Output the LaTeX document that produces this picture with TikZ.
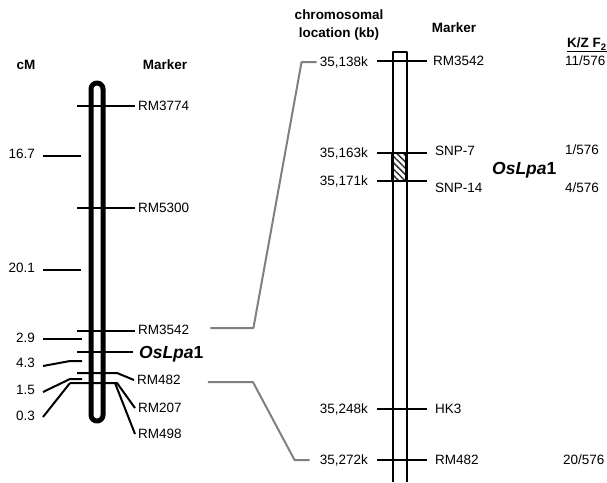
\documentclass[tikz,border=0pt]{standalone}
\usepackage{fontspec}
\setmainfont{Liberation Sans}
\usetikzlibrary{patterns.meta}

\begin{document}
\begin{tikzpicture}[
			x=1pt, y=-1pt,
			every node/.style={font=\fontsize{13.5}{16}\selectfont, inner xsep=3pt, inner ysep=0pt, text height=9.7pt, text depth=0pt},
			head/.style={font=\fontsize{13.5}{16}\selectfont\bfseries},
			gene/.style={font=\fontsize{17.5}{20}\selectfont\bfseries, text height=12.5pt},
			tick/.style={line width=2pt},
			link/.style={line width=2pt, draw=black!50},
			line join=round
			]
			\useasboundingbox (0,0) rectangle (607,482);
			
			% left map
			\node[head] (cm) at (26,65) {cM};
			\node[head] (lmark) at (165,65) {Marker};
			\draw[line width=5pt, rounded corners=6pt] (91,83) rectangle (103,421);
			\foreach \y in {106,208,331}
				\draw[tick] (77,\y) -- (135,\y);
			\draw[tick] (77,352) -- (133,352);
			
			\node[anchor=west] (l3774) at (135,106) {RM3774};
			\node[anchor=west] (l5300) at (135,208) {RM5300};
			\node[anchor=west] (l3542) at (135,330) {RM3542};
			\node[gene, anchor=west] (lgene) at (136,352) {\textit{OsLpa}1};
			\node[anchor=west] (l482) at (134,380) {RM482};
			\node[anchor=west] (l207) at (135,408) {RM207};
			\node[anchor=west] (l498) at (135,434) {RM498};
			\draw[tick] (77,373) -- (117,373) -- (l482.west);
			\draw[tick] (70,383) -- (117,383) -- (l207.west);
			\draw[tick] (115,383) -- (l498.west);
			
			\node[anchor=east] (c167) at (38,154) {16.7};
			\node[anchor=east] (c201) at (38,268) {20.1};
			\node[anchor=east] (c29) at (38,338) {2.9};
			\node[anchor=east] (c43) at (38,363) {4.3};
			\node[anchor=east] (c15) at (38,390) {1.5};
			\node[anchor=east] (c03) at (38,416) {0.3};
			\draw[tick] (c167.east) ++(5,2) -- (81,156);
			\draw[tick] (c201.east) ++(5,2) -- (81,270);
			\draw[tick] (c29.east) ++(5,1) -- (82,339);
			\draw[tick] (c43.east) ++(5,3) -- (70,361) -- (82,361);
			\draw[tick] (c15.east) ++(5,2) -- (70,379) -- (82,379);
			\draw[tick] (c03.east) ++(5,1) -- (70,383);
			
			% right map
			\node[head] (loc1) at (339,15) {chromosomal};
			\node[head] (loc2) at (339,33) {location (kb)};
			\node[head] (rmark) at (454,28) {Marker};
			\node[head, anchor=west] (kz) at (564,43) {\underline{K/Z F\textsubscript{2}}};
			\draw[line width=2pt] (392.5,482) -- (392.5,52) -- (406.5,52) -- (406.5,482);
			\fill[pattern={Lines[angle=-45, distance=4.5pt, line width=1.5pt]}, pattern color=black!80] (392.5,153) rectangle (406.5,181);
			\draw[line width=2.2pt] (392.5,153) rectangle (406.5,181);
			\foreach \y in {61,153,181,409,460}
				\draw[tick] (377,\y) -- (427,\y);
			
			\node[anchor=east] (k138) at (371,62) {35,138k};
			\node[anchor=east] (k163) at (371,153) {35,163k};
			\node[anchor=east] (k171) at (371,181) {35,171k};
			\node[anchor=east] (k248) at (371,409) {35,248k};
			\node[anchor=east] (k272) at (371,460) {35,272k};
			
			\node[anchor=west] (r3542) at (430,61) {RM3542};
			\node[anchor=west] (snp7) at (432,151) {SNP-7};
			\node[anchor=west] (snp14) at (432,188) {SNP-14};
			\node[anchor=west] (hk3) at (432,409) {HK3};
			\node[anchor=west] (r482) at (432,460) {RM482};
			\node[gene, anchor=west] (rgene) at (489,168) {\textit{OsLpa}1};
			
			\node[anchor=west] (f11) at (562,61) {11/576};
			\node[anchor=west] (f1) at (562,150) {1/576};
			\node[anchor=west] (f4) at (562,188) {4/576};
			\node[anchor=west] (f20) at (560,460) {20/576};
			
			% links between the maps
			\draw[link] (l3542.east) ++(18,-2) -- ++(43,0) -- ([xshift=-15pt]k138.west) -- (k138.west);
			\draw[link] (l482.east) ++(24,2) -- ++(45,0) -- ([xshift=-22pt]k272.west) -- ([xshift=-7pt]k272.west);
		\end{tikzpicture}
\end{document}
